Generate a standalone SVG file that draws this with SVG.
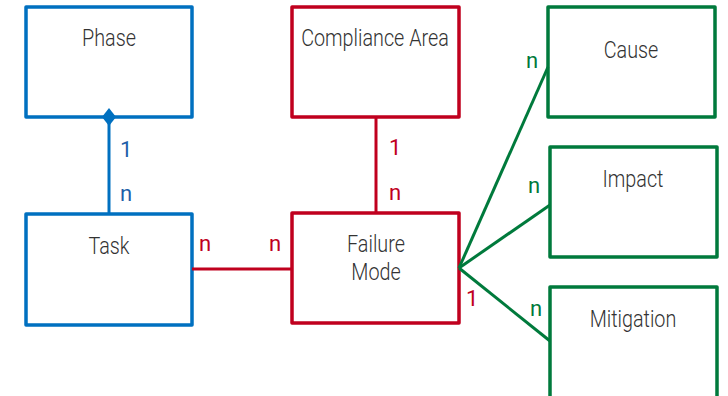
<svg xmlns="http://www.w3.org/2000/svg" width="728" height="396" viewBox="0 0 728 396">
<style>
.box{fill:#fff;stroke-width:3.5;stroke-linejoin:round}
.b{stroke:#0070C0}.r{stroke:#C0001E}.g{stroke:#007A3C}
.t{font-family:Roboto,"Liberation Sans",sans-serif;font-weight:300;font-size:23px;fill:#333;text-anchor:middle;transform-box:fill-box;transform-origin:center;transform:scaleX(0.86)}
.l{font-family:Roboto,"Liberation Sans",sans-serif;font-weight:400;font-size:22px}
.ln{fill:none;stroke-width:3}
</style>
<rect width="728" height="396" fill="#fff"/>
<g id="phase"><rect class="box b" x="26" y="7" width="166" height="110"/><text class="t" x="109" y="46">Phase</text></g>
<g id="task"><rect class="box b" x="26" y="214" width="166" height="111"/><text class="t" x="109" y="254">Task</text></g>
<g id="compliance-area"><rect class="box r" x="292" y="7" width="167" height="110"/><text class="t" x="375" y="46">Compliance Area</text></g>
<g id="failure-mode"><rect class="box r" x="292" y="213" width="167" height="110"/><text class="t" x="376" y="252">Failure</text><text class="t" x="376" y="280">Mode</text></g>
<g id="cause"><rect class="box g" x="548" y="7" width="167" height="110"/><text class="t" x="631" y="58">Cause</text></g>
<g id="impact"><rect class="box g" x="550" y="147" width="167" height="110"/><text class="t" x="633" y="187">Impact</text></g>
<g id="mitigation"><rect class="box g" x="550" y="287" width="167" height="120"/><text class="t" x="633" y="327">Mitigation</text></g>
<g id="connectors">
<line class="ln b" x1="109" y1="117" x2="109" y2="214"/>
<polygon points="109,108 116,117 109,126 102,117" fill="#0070C0"/>
<line class="ln r" x1="376" y1="117" x2="376" y2="213"/>
<line class="ln r" x1="192" y1="269" x2="292" y2="269"/>
<line class="ln g" x1="459" y1="268" x2="548" y2="67"/>
<line class="ln g" x1="459" y1="268" x2="550" y2="205"/>
<line class="ln g" x1="459" y1="268" x2="550" y2="341"/>
<text class="l" x="120" y="157" fill="#1F5FA8">1</text>
<text class="l" x="120" y="201" fill="#1F5FA8">n</text>
<text class="l" x="389" y="155" fill="#C0001E">1</text>
<text class="l" x="389" y="200" fill="#C0001E">n</text>
<text class="l" x="199" y="251" fill="#C0001E">n</text>
<text class="l" x="269" y="251" fill="#C0001E">n</text>
<text class="l" x="466" y="306" fill="#C0001E">1</text>
<text class="l" x="526" y="68" fill="#007A3C">n</text>
<text class="l" x="528" y="193" fill="#007A3C">n</text>
<text class="l" x="530" y="316" fill="#007A3C">n</text>
</g>
</svg>
